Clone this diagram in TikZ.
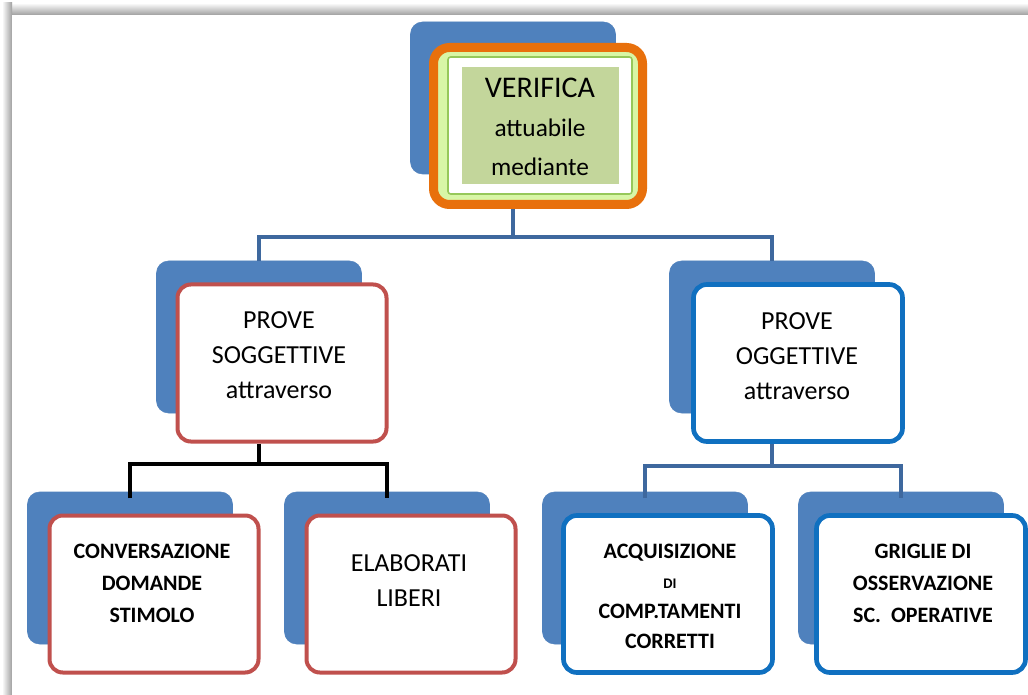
\documentclass[tikz,border=0pt]{standalone}
\usepackage{fontspec}
\setmainfont{Carlito}
\usetikzlibrary{calc}

\definecolor{backblue}{RGB}{79,129,189}
\definecolor{boxred}{RGB}{192,80,77}
\definecolor{boxblue}{RGB}{16,112,192}
\definecolor{connblue}{RGB}{62,104,158}
\definecolor{verorange}{RGB}{232,112,12}
\definecolor{verlime}{RGB}{216,246,166}
\definecolor{verline}{RGB}{150,200,90}
\definecolor{verfill}{RGB}{195,214,155}

\tikzset{
  backbox/.style={draw=backblue, fill=backblue, rounded corners=9pt, minimum width=153.75pt, minimum height=114pt, inner sep=0pt},
  frontbox/.style={fill=white, rounded corners=10pt, line width=3pt, minimum width=156.75pt, minimum height=117.75pt, inner sep=0pt},
  redbox/.style={frontbox, draw=boxred},
  bluebox/.style={frontbox, draw=boxblue, line width=3.5pt},
  conn/.style={draw=connblue, line width=2.6pt},
  blackconn/.style={draw=black, line width=3pt},
  midtext/.style={align=center, inner sep=0pt, font=\fontsize{19.5}{26.25}\selectfont},
  smalltext/.style={align=center, inner sep=0pt, font=\bfseries\fontsize{16.5}{24}\selectfont}
}

\begin{document}
\begin{tikzpicture}[x=0.75pt,y=0.75pt,yscale=-1,xscale=1]
\useasboundingbox (0,0) rectangle (1028,695);

% frame shadow
\shade[top color=white, bottom color=gray!75] (4,3) rectangle (1028,15);
\shade[left color=white, right color=gray!75] (2,3) rectangle (12,695);
\fill[white] (12,15) rectangle (1028,695);

% VERIFICA
\node[backbox] (verB) at (513,98) {};
\node[frontbox, draw=verorange, fill=verlime, line width=6.75pt, rounded corners=12pt] (verF) at (538,126) {};
\node[draw=verline, fill=white, line width=1.2pt, rounded corners=2pt, minimum width=138pt, minimum height=102.75pt, inner sep=0pt] (verW) at (540,125.5) {};
\node[fill=verfill, minimum width=117.75pt, minimum height=87.75pt, inner sep=0pt] (verG) at (540.5,125.5) {};
\node[align=center, inner sep=0pt, font=\fontsize{19}{29}\selectfont] (verT) at (540,127)
  {{\fontsize{22.5}{29}\selectfont VERIFICA}\\attuabile\\mediante};

% PROVE SOGGETTIVE
\node[backbox] (soggB) at (259,337) {};
\node[redbox] (soggF) at (282,363) {};
\node[midtext] (soggT) at (279,355) {PROVE\\SOGGETTIVE\\attraverso};

% PROVE OGGETTIVE
\node[backbox] (oggB) at (772,337) {};
\node[bluebox] (oggF) at (798,363) {};
\node[midtext] (oggT) at (797,356) {PROVE\\OGGETTIVE\\attraverso};

% level 3, left
\node[backbox] (convB) at (130,568) {};
\node[redbox] (convF) at (154,594) {};
\node[smalltext] (convT) at (152,583) {CONVERSAZIONE\\DOMANDE\\STIMOLO};

\node[backbox] (elabB) at (387,568) {};
\node[redbox] (elabF) at (411,594) {};
\node[midtext] (elabT) at (409,581) {ELABORATI\\LIBERI};

% level 3, right
\node[backbox] (acqB) at (645,568) {};
\node[bluebox] (acqF) at (668,594) {};
\node[smalltext, font=\bfseries\fontsize{16.5}{22.5}\selectfont] (acqT) at (670,596)
  {ACQUISIZIONE\\{\fontsize{11}{22.5}\selectfont DI}\\COMP.TAMENTI\\CORRETTI};

\node[backbox] (grigB) at (901,568) {};
\node[bluebox] (grigF) at (921,594) {};
\node[smalltext] (grigT) at (923,583) {GRIGLIE DI\\OSSERVAZIONE\\SC.~~OPERATIVE};

% connectors
\draw[conn] (verB |- verF.south) -- ++(0,28) coordinate (verJ);
\draw[conn] (soggB.north) |- (verJ) -| (oggB.north);

\draw[blackconn] (soggB |- soggF.south) -- ++(0,20) coordinate (soggJ);
\draw[blackconn] ([yshift=5pt]convB.north) |- (soggJ) -| ([yshift=5pt]elabB.north);

\draw[conn] (oggB |- oggF.south) -- ++(0,22) coordinate (oggJ);
\draw[conn] ([yshift=5pt]acqB.north) |- (oggJ) -| ([yshift=5pt]grigB.north);
\end{tikzpicture}
\end{document}
